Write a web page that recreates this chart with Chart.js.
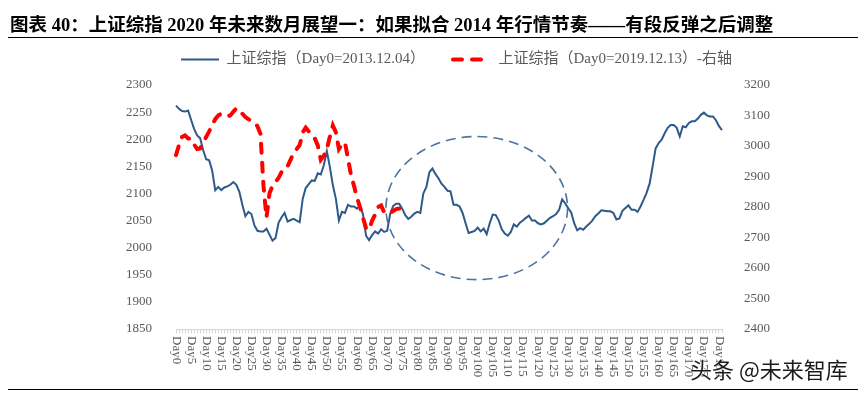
<!DOCTYPE html>
<html>
<head>
<meta charset="utf-8">
<script src="https://cdn.jsdelivr.net/npm/chart.js@4.4.1/dist/chart.umd.min.js"></script>
<style>
  body { margin: 0; background: #fff; }
  #wrap { position: relative; width: 865px; height: 393px; overflow: hidden; }
  #blockChart { position: absolute; left: 0; top: 0; }
  .title { position: absolute; left: 10px; top: 10px; font: bold 18.5px "Liberation Serif", "Noto Sans CJK SC"; color: #000; white-space: nowrap; }
  .rule { position: absolute; left: 8px; width: 850px; height: 1px; background: #000; }
  .mark { position: absolute; left: 690px; top: 352px; font: 22px "Noto Sans CJK SC"; color: #1b1b1b; white-space: nowrap;
          text-shadow: 0 0 2px #fff, 0 0 2px #fff; }
</style>
</head>
<body>
<div id="wrap">
  <canvas id="blockChart" width="865" height="393"></canvas>
  <div class="title">图表 40：上证综指 2020 年未来数月展望一：如果拟合 2014 年行情节奏——有段反弹之后调整</div>
  <div class="rule" style="top:37px"></div>
  <div class="rule" style="top:389px"></div>
  <div class="mark">头条 @未来智库</div>
</div>
<script>
// Day0 .. Day181
var days = [];
for (var i = 0; i < 182; i++) days.push('Day' + i);

// 上证综指, Day0 = 2013.12.04 (left axis)
var sh2013 = [
  2262, 2256, 2252, 2251, 2253, 2236, 2219, 2207, 2202, 2180,
  2163, 2161, 2142, 2106, 2112, 2106, 2111, 2113, 2116, 2121,
  2116, 2103, 2079, 2058, 2066, 2062, 2041, 2031, 2030, 2030,
  2035, 2024, 2013, 2018, 2046, 2056, 2064, 2048, 2051, 2053,
  2050, 2047, 2090, 2110, 2117, 2124, 2123, 2137, 2135, 2152,
  2178, 2149, 2115, 2090, 2050, 2066, 2064, 2079, 2076, 2076,
  2072, 2078, 2061, 2022, 2014, 2023, 2030, 2026, 2034, 2029,
  2031, 2062, 2077, 2081, 2081, 2072, 2060, 2053, 2057, 2063,
  2066, 2064, 2100, 2112, 2139, 2146, 2136, 2128, 2118, 2112,
  2105, 2104, 2079, 2079, 2076, 2064, 2045, 2027, 2029, 2031,
  2037, 2030, 2035, 2025, 2045, 2061, 2060, 2050, 2034, 2026,
  2022, 2029, 2043, 2039, 2046, 2050, 2055, 2059, 2050, 2050,
  2045, 2043, 2045, 2050, 2055, 2058, 2062, 2070, 2089, 2082,
  2073, 2065, 2045, 2032, 2036, 2033, 2039, 2044, 2050, 2058,
  2063, 2069, 2068, 2067, 2067, 2064, 2052, 2054, 2068, 2073,
  2078, 2070, 2070, 2066, 2076, 2088, 2101, 2118, 2150, 2183,
  2193, 2199, 2211, 2221, 2226, 2226, 2221, 2205, 2224, 2222,
  2230, 2233, 2233, 2238, 2245, 2249, 2244, 2242, 2242, 2235,
  2224, 2217
];

// 上证综指, Day0 = 2019.12.13 (right axis)
var sh2019 = [
  2970, 3003, 3030, 3035, 3025, 3025, 3005, 2990, 2992, 3010,
  3030, 3048, 3068, 3088, 3100, 3106, 3102, 3098, 3100, 3112,
  3124, 3118, 3106, 3095, 3088, 3082, 3078, 3065, 3040, 2870,
  2765, 2845, 2870, 2882, 2895, 2915, 2930, 2934, 2955, 2980,
  2990, 3003, 3045, 3060, 3048, 3035, 3025, 3002, 2955, 2968,
  2990, 3030, 3067, 3045, 2990, 3005, 3012, 2960, 2905, 2870,
  2830, 2800, 2765, 2730, 2725, 2755, 2775, 2800, 2805, 2782,
  2778, 2780, 2787, 2793, 2795
];

var leftTicks = [1850, 1900, 1950, 2000, 2050, 2100, 2150, 2200, 2250, 2300];
var rightTicks = [2400, 2500, 2600, 2700, 2800, 2900, 3000, 3100, 3200];

var tickFont = { family: '"Liberation Serif"', size: 13 };
var grey = '#595959';
var plain = function (v) { return String(v); };

// extra room under the legend
var legendGap = {
  id: 'legendGap',
  beforeLayout: function (chart) {
    var lg = chart.legend;
    if (!lg || lg._gapPatched) return;
    var fit = lg.fit;
    lg.fit = function () { fit.call(this); this.height += 8; };
    lg._gapPatched = true;
  }
};

// x labels, read top to bottom, every 5th day
var dayLabels = {
  id: 'dayLabels',
  afterDraw: function (chart) {
    var x = chart.scales.x, ctx = chart.ctx;
    ctx.save();
    ctx.font = '13px "Liberation Serif"';
    ctx.fillStyle = grey;
    ctx.textAlign = 'left';
    ctx.textBaseline = 'middle';
    days.forEach(function (d, i) {
      if (i % 5) return;
      ctx.save();
      ctx.translate(x.getPixelForValue(i), x.top + 7);
      ctx.rotate(Math.PI / 2);
      ctx.fillText(d, 0, 0);
      ctx.restore();
    });
    ctx.restore();
  }
};

// dashed ring round the sideways stretch
var ring = {
  id: 'ring',
  afterDatasetsDraw: function (chart) {
    var x = chart.scales.x, y = chart.scales.y, ctx = chart.ctx;
    var cx = x.getPixelForValue(99.7), cy = y.getPixelForValue(2073);
    var rx = x.getPixelForValue(129.8) - cx;
    var ry = cy - y.getPixelForValue(2205);
    ctx.save();
    ctx.beginPath();
    ctx.ellipse(cx, cy, rx, ry, 0, 0, Math.PI * 2);
    ctx.setLineDash([10, 6]);
    ctx.lineWidth = 1.6;
    ctx.strokeStyle = '#4d74a0';
    ctx.stroke();
    ctx.restore();
  }
};

const ctx = document.getElementById('blockChart');

new Chart(ctx, {
  type: 'line',
  data: {
    labels: days,
    datasets: [{
      label: '上证综指（Day0=2013.12.04）',
      data: sh2013,
      borderColor: '#2e5a8a',
      backgroundColor: '#2e5a8a',
      borderWidth: 2,
      pointRadius: 0,
      tension: 0,
      yAxisID: 'y',
      order: 1
    }, {
      label: '上证综指（Day0=2019.12.13）-右轴',
      data: sh2019,
      borderColor: '#ff0000',
      backgroundColor: '#ff0000',
      borderWidth: 4,
      borderDash: [9, 10],
      borderCapStyle: 'round',
      pointRadius: 0,
      tension: 0,
      yAxisID: 'y1',
      order: 0
    }]
  },
  options: {
    responsive: false,
    animation: false,
    layout: { padding: { top: 24, left: 48, right: 0, bottom: 0 } },
    plugins: {
      tooltip: { enabled: false },
      legend: {
        position: 'top',
        labels: {
          usePointStyle: true,
          pointStyle: 'line',
          pointStyleWidth: 38,
          padding: 28,
          color: grey,
          font: { family: '"Liberation Serif", "Noto Sans CJK SC"', size: 15 },
          sort: function (a, b) { return a.datasetIndex - b.datasetIndex; },
          generateLabels: function (chart) {
            var items = Chart.defaults.plugins.legend.labels.generateLabels(chart);
            items.forEach(function (it) {
              var ds = chart.data.datasets[it.datasetIndex];
              it.lineDash = ds.borderDash || [];
              it.lineCap = ds.borderCapStyle || 'butt';
              it.lineWidth = ds.borderWidth;
              it.strokeStyle = ds.borderColor;
            });
            return items;
          }
        }
      }
    },
    scales: {
      x: {
        offset: false,
        ticks: { display: false },
        grid: { drawOnChartArea: false, drawTicks: true, tickLength: 4, color: '#d6d6d6' },
        border: { color: '#d6d6d6' },
        afterFit: function (s) { s.height = 64; }
      },
      y: {
        position: 'left',
        min: leftTicks[0],
        max: leftTicks[leftTicks.length - 1],
        ticks: { stepSize: 50, color: grey, font: tickFont, padding: 16, callback: plain },
        grid: { display: false },
        border: { display: false },
        afterFit: function (s) { s.width = 128; }
      },
      y1: {
        position: 'right',
        min: rightTicks[0],
        max: rightTicks[rightTicks.length - 1],
        ticks: { stepSize: 100, color: grey, font: tickFont, padding: 14, callback: plain },
        grid: { display: false },
        border: { display: false },
        afterFit: function (s) { s.width = 143; }
      }
    }
  },
  plugins: [legendGap, dayLabels, ring]
});
</script>
</body>
</html>
